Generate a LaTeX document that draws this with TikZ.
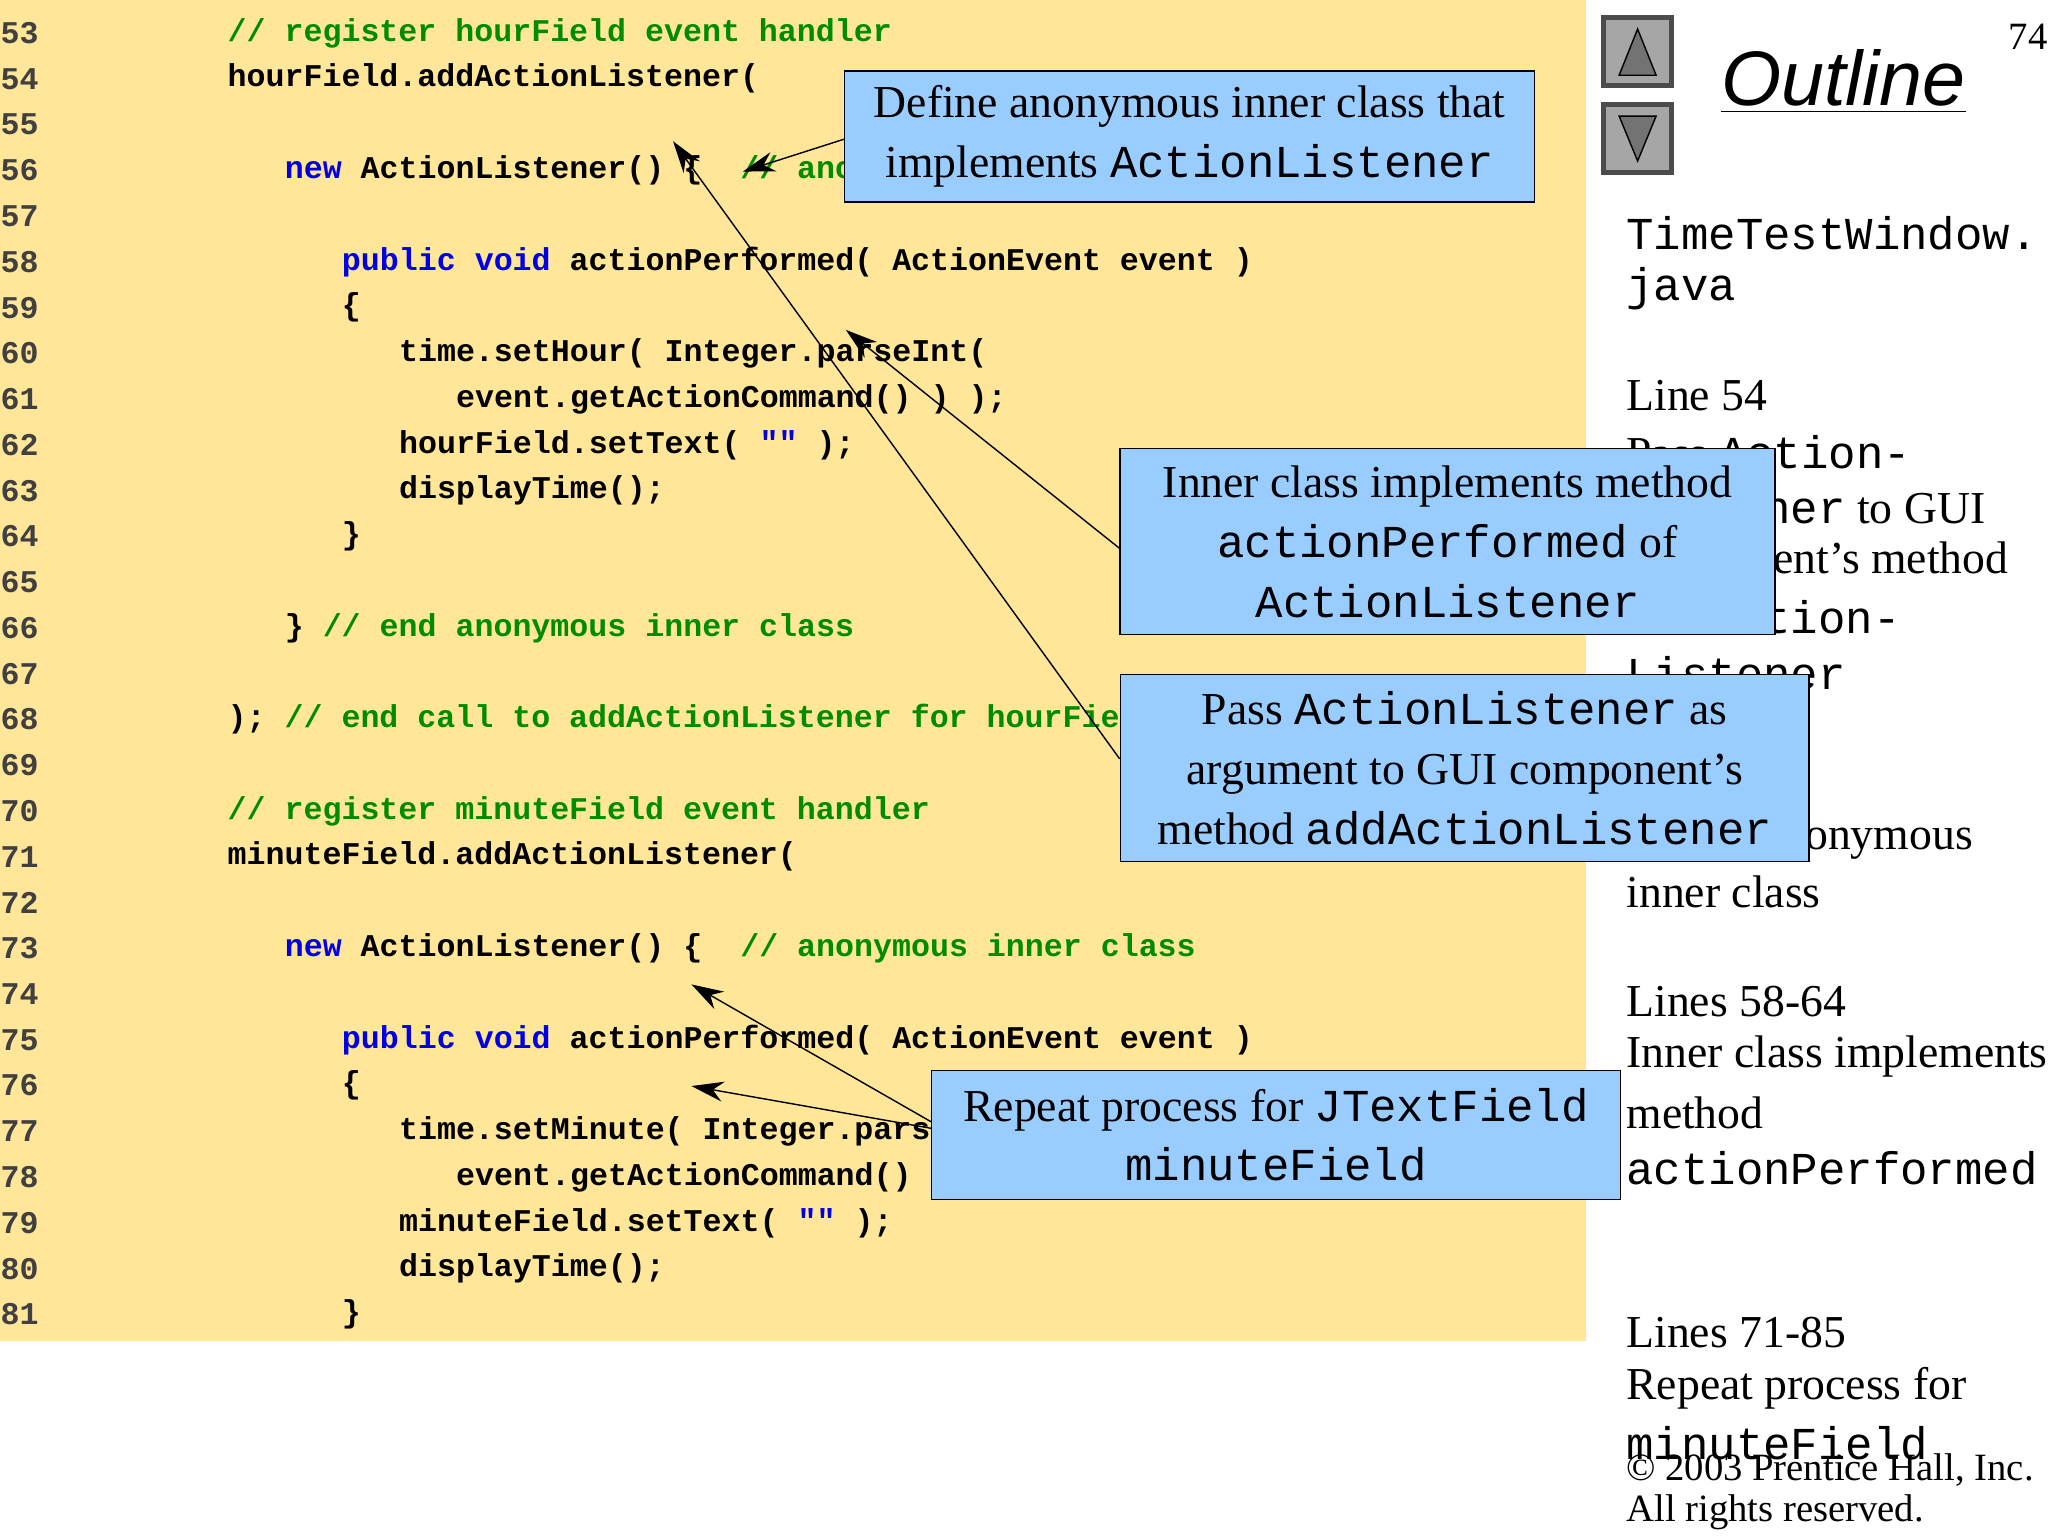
\documentclass[tikz,border=0pt]{standalone}
\usepackage{fontspec}
\setmainfont{Liberation Serif}
\setmonofont{Liberation Mono}
\newfontfamily\sansfont{Liberation Sans}
\usepackage{xcolor}
\usepackage{tikz}
\usetikzlibrary{arrows.meta,positioning}
\definecolor{codebg}{RGB}{255,230,153}
\definecolor{calloutbg}{RGB}{153,204,255}
\definecolor{cmtgreen}{RGB}{0,140,0}
\definecolor{kwblue}{RGB}{0,0,230}
\newcommand{\cmt}[1]{\textcolor{cmtgreen}{#1}}
\newcommand{\kwd}[1]{\textcolor{kwblue}{#1}}
\tikzset{codeline/.style={anchor=west,inner sep=0pt,font=\fontsize{9}{10}\selectfont\ttfamily\bfseries},
lineno/.style={anchor=west,inner sep=0pt,text=black!75,font=\fontsize{9}{10}\selectfont\ttfamily\bfseries},
callout/.style={draw=black,fill=calloutbg,inner sep=0pt,align=center,font=\fontsize{13}{17}\selectfont},
sidetext/.style={anchor=west,inner sep=0pt,font=\fontsize{13}{15}\selectfont},
pointer/.style={-{Stealth[length=3.2mm,width=2mm]},thin}}
% one code line: number, indent level, text
\newcommand{\codeln}[3]{%
  \node[lineno] (n#1) at (0,{25+(#1-53)*34.68}) {#1};
  \node[codeline] (l#1) at ({172+#2*43.3},{25+(#1-53)*34.68}) {#3};}
\begin{document}
\begin{tikzpicture}[x=0.013196cm,y=-0.013196cm]
\useasboundingbox (0,0) rectangle (1552,1164);

% Code panel
\fill[codebg] (0,0) rectangle (1202,1016);
\foreach \n in {55,57,65,67,69,72,74} \node[lineno] (n\n) at (0,{25+(\n-53)*34.68}) {\n};
\codeln{53}{0}{\cmt{// register hourField event handler}}
\codeln{54}{0}{hourField.addActionListener(}
\codeln{56}{1}{\kwd{new} ActionListener() \{~~\cmt{// anonymous inner class}}
\codeln{58}{2}{\kwd{public void} actionPerformed( ActionEvent event )}
\codeln{59}{2}{\{}
\codeln{60}{3}{time.setHour( Integer.parseInt(}
\codeln{61}{4}{event.getActionCommand() ) );}
\codeln{62}{3}{hourField.setText( \kwd{""} );}
\codeln{63}{3}{displayTime();}
\codeln{64}{2}{\}}
\codeln{66}{1}{\} \cmt{// end anonymous inner class}}
\codeln{68}{0}{); \cmt{// end call to addActionListener for hourField}}
\codeln{70}{0}{\cmt{// register minuteField event handler}}
\codeln{71}{0}{minuteField.addActionListener(}
\codeln{73}{1}{\kwd{new} ActionListener() \{~~\cmt{// anonymous inner class}}
\codeln{75}{2}{\kwd{public void} actionPerformed( ActionEvent event )}
\codeln{76}{2}{\{}
\codeln{77}{3}{time.setMinute( Integer.parseInt(}
\codeln{78}{4}{event.getActionCommand() ) );}
\codeln{79}{3}{minuteField.setText( \kwd{""} );}
\codeln{80}{3}{displayTime();}
\codeln{81}{2}{\}}

% Navigation and heading
\node[draw=black!70,fill=black!35,line width=1.5pt,minimum size=0.68cm,inner sep=0pt] (up) at (1241,39) {};
\fill[black!55,draw=black] (1227,57) -- (1255,57) -- (1241,22) -- cycle;
\node[draw=black!70,fill=black!35,line width=1.5pt,minimum size=0.68cm,inner sep=0pt] (down) at (1241,105) {};
\fill[black!55,draw=black] (1227,88) -- (1255,88) -- (1241,122) -- cycle;
\node[inner sep=0pt,font=\fontsize{22}{24}\selectfont\sansfont\itshape] (outline) at (1397,62) {\underline{Outline}};
\node[inner sep=0pt,font=\fontsize{11}{12}\selectfont] (page) at (1537,28) {74};

% Side notes
\node[sidetext] (s1) at (1232,177) {\texttt{TimeTestWindow.}};
\node[sidetext] (s2) at (1232,219) {\texttt{java}};
\node[sidetext] (s3) at (1232,300) {Line 54};
\node[sidetext] (s4) at (1232,343) {Pass \texttt{Action-}};
\node[sidetext] (s5) at (1232,384) {\texttt{Listener} to GUI};
\node[sidetext] (s6) at (1232,426) {component’s method};
\node[sidetext] (s7) at (1232,468) {\texttt{addAction-}};
\node[sidetext] (s8) at (1232,510) {\texttt{Listener}};
\node[sidetext] (s9) at (1232,594) {Line 56};
\node[sidetext] (s10) at (1232,635) {Define anonymous};
\node[sidetext] (s11) at (1232,676) {inner class};
\node[sidetext] (s12) at (1232,759) {Lines 58-64};
\node[sidetext] (s13) at (1232,801) {Inner class implements};
\node[sidetext] (s14) at (1232,843) {method};
\node[sidetext] (s15) at (1232,885) {\texttt{actionPerformed}};
\node[sidetext] (s16) at (1232,1010) {Lines 71-85};
\node[sidetext] (s17) at (1232,1052) {Repeat process for};
\node[sidetext] (s18) at (1232,1094) {\texttt{minuteField}};
\node[sidetext,font=\fontsize{11}{12}\selectfont] (copy1) at (1232,1114) {© 2003 Prentice Hall, Inc.};
\node[sidetext,font=\fontsize{11}{12}\selectfont] (copy2) at (1232,1146) {All rights reserved.};

% Callouts
\node[callout,minimum width=6.9cm,minimum height=1.31cm] (c1) at (901.5,103.5) {Define anonymous inner class that\\implements \texttt{ActionListener}};
\node[callout,minimum width=6.55cm,minimum height=1.86cm] (c2) at (1097,410.5) {Inner class implements method\\\texttt{actionPerformed} of\\\texttt{ActionListener}};
\node[callout,minimum width=6.89cm,minimum height=1.87cm] (c3) at (1110,582) {Pass \texttt{ActionListener} as\\argument to GUI component’s\\method \texttt{addActionListener}};
\node[callout,minimum width=6.89cm,minimum height=1.29cm] (c4) at (967,860) {Repeat process for \texttt{JTextField}\\\texttt{minuteField}};

% Pointers
\coordinate (t1) at (563,130);
\coordinate (t2) at (641,250);
\coordinate (t3) at (510,107);
\coordinate (t4) at (524,746);
\coordinate (t5) at (524,823);
\draw[pointer] (c1.west) ++(0,2) -- (t1);
\draw[pointer] (c2.west) ++(0,5) -- (t2);
\draw[pointer] (c3.west) ++(0,-7) -- (t3);
\draw[pointer] (c4.west) ++(0,-10) -- (t4);
\draw[pointer] (c4.west) ++(0,-5) -- (t5);
\end{tikzpicture}
\end{document}
